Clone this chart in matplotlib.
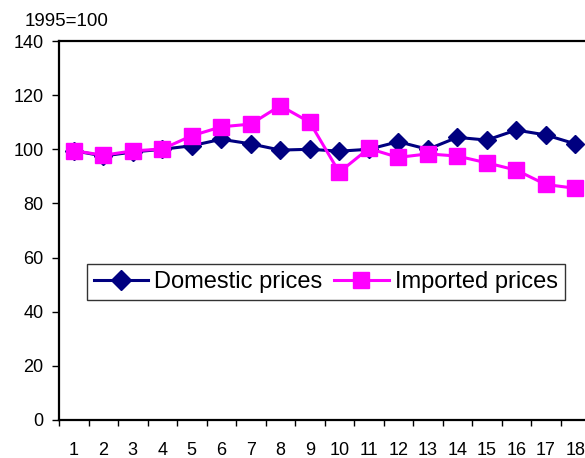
import matplotlib
matplotlib.use("Agg")
import matplotlib.pyplot as plt
from matplotlib.ticker import FixedLocator

plt.rcParams["font.family"] = ["Liberation Sans", "DejaVu Sans"]

periods = list(range(1, 19))
domestic = [99.5, 97.5, 99, 100, 101.3, 103.7, 102, 99.7, 100, 99.3,
            100, 102.8, 100, 104.4, 103.4, 107.1, 105.3, 102]
imported = [99.5, 97.8, 99.4, 100.1, 105, 108.3, 109.3, 116.1, 110, 91.5,
            100.3, 97, 98.3, 97.5, 95, 92.3, 87, 85.6]
yticks = [0, 20, 40, 60, 80, 100, 120, 140]

fig = plt.figure(figsize=(5.85, 4.58), dpi=100)
ax = fig.add_axes([59 / 585, 1 - 420 / 458, 531 / 585, 379 / 458])

ax.plot(periods, domestic, color="#000080", lw=2.2, marker="D", ms=9.5,
        label="Domestic prices", clip_on=False, zorder=3)
ax.plot(periods, imported, color="#FF00FF", lw=2.2, marker="s", ms=11,
        label="Imported prices", clip_on=False, zorder=4)

ax.set_xlim(0.5, 18.5)
ax.set_ylim(0, 140)
ax.set_yticks(yticks)
ax.set_xticks(periods)
ax.xaxis.set_minor_locator(FixedLocator([p - 0.5 for p in periods] + [18.5]))
ax.tick_params(axis="x", which="major", length=0, pad=16, labelsize=13)
ax.tick_params(axis="x", which="minor", length=4, width=1, direction="out")
ax.tick_params(axis="y", length=5, width=1, direction="out", labelsize=13, pad=6)

for s in ["left", "bottom", "top"]:
    ax.spines[s].set_linewidth(1.6)
ax.spines["right"].set_visible(False)

leg = ax.legend(loc="lower left", bbox_to_anchor=(0.0527, 0.3166),
                ncol=2, fontsize=17, frameon=True, fancybox=False,
                borderaxespad=0, borderpad=0.3, handlelength=2.3,
                columnspacing=0.5, handletextpad=0.25, markerscale=1.1)
leg.get_frame().set_edgecolor("black")
leg.get_frame().set_linewidth(1.0)

fig.text(25 / 585, 1 - 21 / 458, "1995=100", fontsize=13.5, va="center", ha="left")

fig.savefig("out.png", dpi=100)
